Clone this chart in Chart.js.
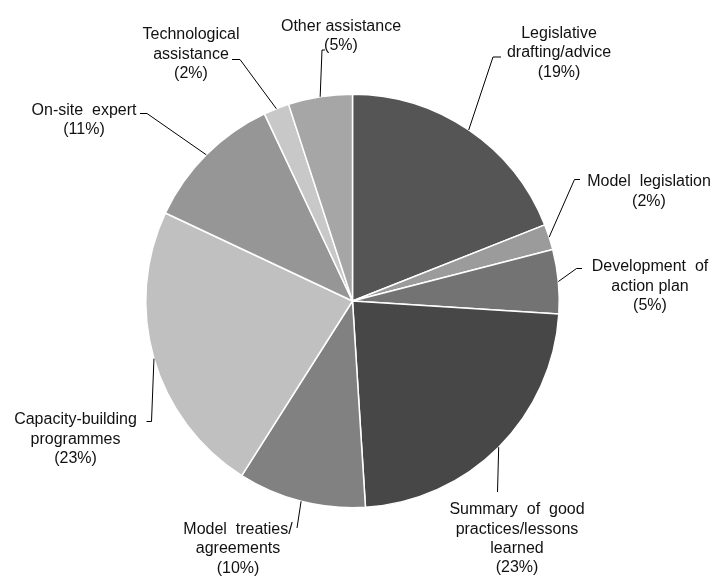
<!DOCTYPE html>
<html>
<head>
<meta charset="utf-8">
<script src="https://cdn.jsdelivr.net/npm/chart.js@4"></script>
<style>
  html, body { margin: 0; padding: 0; background: #fff; }
  #wrap { position: relative; width: 713px; height: 576px; }
</style>
</head>
<body>
<div id="wrap"><canvas id="assistChart"></canvas></div>
<script>
// Types of assistance requested, share of all requests (%)
const categories = [
  'Legislative drafting/advice',
  'Model legislation',
  'Development of action plan',
  'Summary of good practices/lessons learned',
  'Model treaties/agreements',
  'Capacity-building programmes',
  'On-site expert',
  'Technological assistance',
  'Other assistance'
];
const shares = [19, 2, 5, 23, 10, 23, 11, 2, 5];

// how each category name is broken over lines in its callout
const labelLines = [
  ['Legislative', 'drafting/advice'],
  ['Model  legislation'],
  ['Development  of', 'action plan'],
  ['Summary  of  good', 'practices/lessons', 'learned'],
  ['Model  treaties/', 'agreements'],
  ['Capacity-building', 'programmes'],
  ['On-site  expert'],
  ['Technological', 'assistance'],
  ['Other assistance']
];

const sliceColors = ['#555555', '#9b9b9b', '#737373', '#474747', '#818181',
                     '#c0c0c0', '#969696', '#c8c8c8', '#a6a6a6'];

// callout placement: text centre (x, first line y), elbow of the leader, end of the short tick
const callouts = [
  { text: [559, 33.5],  elbow: [493, 57],    tick: [501, 57] },
  { text: [649, 182],   elbow: [574.5, 179.5], tick: [580, 179.5] },
  { text: [650, 267],   elbow: [576.5, 268.5], tick: [582, 268.5] },
  { text: [517, 510],   elbow: [497.5, 492], tick: null },
  { text: [238, 529.5], elbow: [297, 528],   tick: null },
  { text: [75.5, 420],  elbow: [151.5, 421.5], tick: [146.5, 421.5] },
  { text: [84, 110.5],  elbow: [147, 113.5], tick: [140, 113.5] },
  { text: [191, 35],    elbow: [240, 59.5],  tick: [232, 59.5] },
  { text: [341, 26.5],  elbow: [322, 50],    tick: [325, 50] }
];

const LINE_H = 19.3;

// leader lines + category/percent text around the pie
const calloutPlugin = {
  id: 'callouts',
  afterDatasetsDraw(chart) {
    const ctx = chart.ctx;
    const arcs = chart.getDatasetMeta(0).data;
    ctx.save();
    ctx.strokeStyle = '#000';
    ctx.lineWidth = 1;
    arcs.forEach((arc, i) => {
      const { x, y, startAngle, endAngle, outerRadius } =
        arc.getProps(['x', 'y', 'startAngle', 'endAngle', 'outerRadius'], true);
      const mid = (startAngle + endAngle) / 2;
      const ax = x + Math.cos(mid) * outerRadius;
      const ay = y + Math.sin(mid) * outerRadius;
      const c = callouts[i];
      ctx.beginPath();
      ctx.moveTo(ax, ay);
      ctx.lineTo(c.elbow[0], c.elbow[1]);
      if (c.tick) ctx.lineTo(c.tick[0], c.tick[1]);
      ctx.stroke();

      const lines = labelLines[i].concat(['(' + shares[i] + '%)']);
      ctx.fillStyle = '#111';
      ctx.font = '16px "Liberation Sans", Arial, sans-serif';
      ctx.textAlign = 'center';
      ctx.textBaseline = 'middle';
      lines.forEach((t, k) => ctx.fillText(t, c.text[0], c.text[1] + k * LINE_H));
    });
    ctx.restore();
  }
};

new Chart(document.getElementById('assistChart'), {
  type: 'pie',
  data: {
    labels: categories,
    datasets: [{
      data: shares,
      backgroundColor: sliceColors,
      borderColor: '#ffffff',
      borderWidth: 1.5
    }]
  },
  options: {
    responsive: true,
    maintainAspectRatio: false,
    animation: false,
    layout: { padding: { top: 93.5, bottom: 67.5, left: 0, right: 8 } },
    plugins: {
      legend: { display: false },
      tooltip: { enabled: false }
    }
  },
  plugins: [calloutPlugin]
});
</script>
</body>
</html>
